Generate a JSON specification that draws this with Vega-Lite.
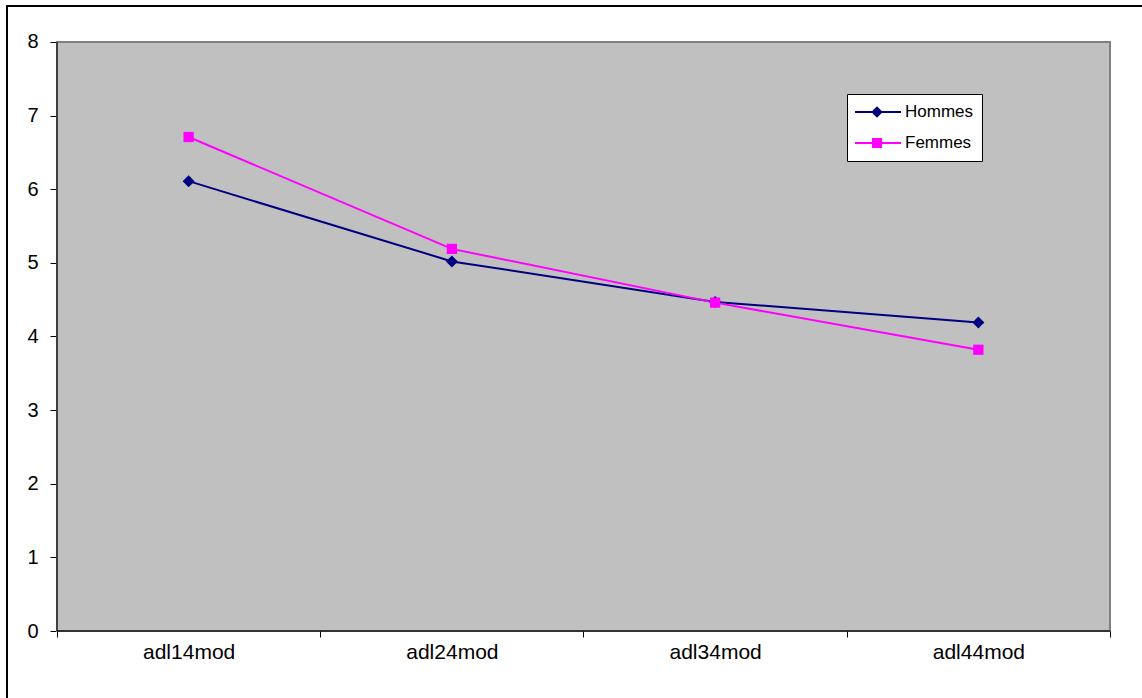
{
  "$schema": "https://vega.github.io/schema/vega-lite/v6.json",
  "width": 1137,
  "height": 694,
  "autosize": {"type": "none"},
  "padding": {"left": 7, "top": 6, "right": -2, "bottom": -2},
  "background": "white",
  "config": {
    "view": {"stroke": "black", "strokeWidth": 2, "fill": "white"},
    "font": "Liberation Sans",
    "axis": {"labelFont": "Liberation Sans", "labelColor": "black", "tickColor": "black", "tickWidth": 1, "grid": false, "domain": false, "title": null}
  },
  "data": {
    "values": [
      {"cat": "adl14mod", "serie": "Hommes", "val": 6.11},
      {"cat": "adl24mod", "serie": "Hommes", "val": 5.02},
      {"cat": "adl34mod", "serie": "Hommes", "val": 4.47},
      {"cat": "adl44mod", "serie": "Hommes", "val": 4.19},
      {"cat": "adl14mod", "serie": "Femmes", "val": 6.71},
      {"cat": "adl24mod", "serie": "Femmes", "val": 5.19},
      {"cat": "adl34mod", "serie": "Femmes", "val": 4.46},
      {"cat": "adl44mod", "serie": "Femmes", "val": 3.82}
    ]
  },
  "layer": [
    {
      "data": {"values": [{}]},
      "mark": {"type": "rect", "fill": "#C0C0C0", "stroke": "#808080", "strokeWidth": 2},
      "encoding": {
        "x": {"datum": "adl14mod", "type": "nominal", "bandPosition": 0},
        "x2": {"datum": "adl44mod", "bandPosition": 1},
        "y": {"datum": 0, "type": "quantitative"},
        "y2": {"datum": 8}
      }
    },
    {
      "data": {"values": [{}]},
      "mark": {"type": "rule", "color": "black", "strokeWidth": 1},
      "encoding": {
        "x": {"datum": "adl14mod", "type": "nominal", "bandPosition": 0},
        "y": {"datum": 0, "type": "quantitative"},
        "y2": {"datum": 8}
      }
    },
    {
      "data": {"values": [{}]},
      "mark": {"type": "rule", "color": "#333333", "strokeWidth": 2},
      "encoding": {
        "x": {"datum": "adl14mod", "type": "nominal", "bandPosition": 0},
        "x2": {"datum": "adl44mod", "bandPosition": 1},
        "y": {"datum": 0, "type": "quantitative"}
      }
    },
    {
      "mark": {"type": "line", "strokeWidth": 2},
      "encoding": {
        "x": {
          "field": "cat",
          "type": "nominal",
          "scale": {
            "type": "band",
            "domain": ["adl14mod", "adl24mod", "adl34mod", "adl44mod"],
            "paddingInner": 0,
            "paddingOuter": 0.159544,
            "align": 0.595238,
            "round": false
          },
          "axis": {
            "orient": "bottom",
            "offset": -69,
            "tickBand": "extent",
            "tickSize": 6,
            "labelFontSize": 21,
            "labelPadding": 15,
            "labelAngle": 0,
            "labelAlign": "center"
          }
        },
        "y": {
          "field": "val",
          "type": "quantitative",
          "scale": {"domain": [-0.93718, 8.48896], "nice": false, "zero": false},
          "axis": {
            "orient": "left",
            "offset": -50,
            "values": [0, 1, 2, 3, 4, 5, 6, 7, 8],
            "format": "d",
            "tickSize": 7,
            "labelFontSize": 20,
            "labelPadding": 12
          }
        },
        "color": {
          "field": "serie",
          "type": "nominal",
          "scale": {"domain": ["Hommes", "Femmes"], "range": ["#000080", "#FF00FF"]},
          "legend": {
            "orient": "none",
            "legendX": 840,
            "legendY": 88,
            "title": null,
            "padding": 8,
            "strokeColor": "black",
            "fillColor": "white",
            "labelFont": "Liberation Sans",
            "labelFontSize": 17,
            "labelColor": "black",
            "symbolSize": 2304,
            "clipHeight": 20,
            "rowPadding": 11,
            "labelOffset": 4,
            "symbolOffset": -2,
            "encode": {
              "symbols": {
                "update": {
                  "shape": {"signal": "datum.value === 'Hommes' ? 'M-1,-0.04L1,-0.04L1,0.04L-1,0.04Z M0,-0.24L0.24,0L0,0.24L-0.24,0Z' : 'M-1,-0.04L1,-0.04L1,0.04L-1,0.04Z M-0.21,-0.21L0.21,-0.21L0.21,0.21L-0.21,0.21Z'"},
                  "fill": {"scale": "color", "field": "value"},
                  "stroke": {"value": "transparent"},
                  "strokeWidth": {"value": 0},
                  "size": {"value": 2304},
                  "opacity": {"value": 1}
                }
              }
            }
          }
        }
      }
    },
    {
      "transform": [{"filter": "datum.serie === 'Hommes'"}],
      "mark": {"type": "point", "filled": true, "opacity": 1, "size": 105, "shape": "M0,-1.17L1.17,0L0,1.17L-1.17,0Z"},
      "encoding": {
        "x": {"field": "cat", "type": "nominal"},
        "y": {"field": "val", "type": "quantitative"},
        "color": {"field": "serie", "type": "nominal"}
      }
    },
    {
      "transform": [{"filter": "datum.serie === 'Femmes'"}],
      "mark": {"type": "point", "filled": true, "opacity": 1, "size": 105, "shape": "square"},
      "encoding": {
        "x": {"field": "cat", "type": "nominal"},
        "y": {"field": "val", "type": "quantitative"},
        "color": {"field": "serie", "type": "nominal"}
      }
    }
  ]
}
